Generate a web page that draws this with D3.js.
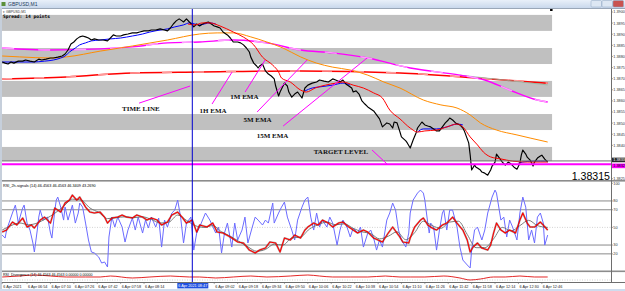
<!DOCTYPE html>
<html>
<head>
<meta charset="utf-8">
<script src="https://cdn.jsdelivr.net/npm/d3@7"></script>
<style>
  body { margin: 0; background: #fff; }
  svg { display: block; }
</style>
</head>
<body>
<div id="vis"></div>
<script>
// ── DATA ────────────────────────────────────────────────────────────────────
// time = minutes after 06:00 on 6 Apr 2021 (M1 bars), price in GBPUSD
const closeSeries = [[37,1.38775],[39,1.38770],[41,1.38766],[43,1.38775],[45,1.38770],[48,1.38779],[51,1.38779],[53,1.38784],[56,1.38779],[59,1.38775],[62,1.38788],[64,1.38784],[67,1.38788],[70,1.38793],[72,1.38793],[75,1.38797],[78,1.38802],[80,1.38811],[82,1.38829],[84,1.38856],[86,1.38865],[88,1.38879],[90,1.38888],[92,1.38892],[94,1.38888],[96,1.38883],[98,1.38874],[100,1.38879],[103,1.38874],[106,1.38874],[109,1.38870],[111,1.38883],[113,1.38897],[115,1.38892],[118,1.38892],[120,1.38897],[123,1.38901],[126,1.38906],[129,1.38906],[131,1.38910],[134,1.38915],[137,1.38915],[139,1.38919],[142,1.38919],[145,1.38924],[148,1.38919],[150,1.38915],[152,1.38928],[154,1.38946],[156,1.38960],[158,1.38969],[160,1.38960],[161,1.38955],[163,1.38969],[165,1.38955],[167,1.38942],[168,1.38933],[170,1.38946],[172,1.38937],[174,1.38946],[176,1.38951],[178,1.38955],[180,1.38946],[182,1.38937],[184,1.38933],[186,1.38928],[188,1.38910],[191,1.38897],[193,1.38883],[195,1.38865],[198,1.38865],[200,1.38861],[202,1.38852],[204,1.38838],[206,1.38820],[207,1.38797],[209,1.38770],[211,1.38757],[212,1.38748],[213,1.38757],[215,1.38766],[217,1.38735],[219,1.38721],[221,1.38712],[223,1.38699],[224,1.38667],[226,1.38622],[227,1.38640],[228,1.38654],[230,1.38680],[232,1.38667],[233,1.38640],[235,1.38617],[237,1.38631],[239,1.38640],[242,1.38613],[244,1.38658],[246,1.38671],[249,1.38680],[252,1.38685],[254,1.38694],[257,1.38689],[260,1.38685],[263,1.38699],[265,1.38694],[268,1.38685],[270,1.38694],[272,1.38676],[274,1.38667],[276,1.38658],[277,1.38640],[279,1.38645],[281,1.38631],[283,1.38600],[285,1.38586],[287,1.38573],[289,1.38564],[291,1.38555],[293,1.38537],[295,1.38519],[297,1.38483],[300,1.38501],[302,1.38496],[304,1.38478],[305,1.38505],[307,1.38501],[309,1.38460],[310,1.38438],[313,1.38420],[314,1.38411],[316,1.38388],[318,1.38424],[320,1.38456],[321,1.38478],[323,1.38496],[324,1.38505],[326,1.38492],[328,1.38487],[330,1.38483],[332,1.38474],[334,1.38465],[336,1.38465],[338,1.38483],[340,1.38501],[342,1.38514],[343,1.38523],[345,1.38514],[347,1.38501],[350,1.38492],[352,1.38478],[353,1.38465],[356,1.38411],[357,1.38357],[358,1.38289],[360,1.38311],[361,1.38302],[362,1.38298],[364,1.38289],[365,1.38280],[367,1.38275],[369,1.38266],[371,1.38289],[372,1.38307],[374,1.38325],[375,1.38361],[377,1.38343],[379,1.38325],[381,1.38311],[383,1.38325],[385,1.38316],[387,1.38302],[389,1.38293],[391,1.38320],[392,1.38357],[393,1.38379],[395,1.38361],[396,1.38347],[398,1.38334],[400,1.38307],[401,1.38325],[403,1.38343],[405,1.38352],[406,1.38356],[408,1.38338],[410,1.38325]];

// 1M EMA (blue) - null where it is hidden under the price
const ema1m = [[37,1.38775],[49,1.38775],[58,1.38775],[66,1.38779],[72,1.38784],[77,1.38793],[80,1.38802],[83,1.38820],[87,1.38838],[90,1.38852],[94,1.38861],[98,1.38870],[104,1.38874],[111,1.38879],[118,1.38883],[126,1.38892],[133,1.38901],[138,1.38910],[145,1.38919],[150,1.38924],[155,1.38933],[161,1.38942],[165,1.38951],[172,1.38942],[179,1.38951],[183,1.38946],[184,null],
  [244,1.38645],[249,1.38658],[254,1.38663],[263,1.38671],[270,1.38680],[275,1.38671],[276,null],
  [321,1.38460],[325,1.38474],[330,1.38474],[334,1.38474],[341,1.38483],[348,1.38496],[352,1.38492],[353,null],
  [390,1.38320],[393,1.38325],[400,1.38329],[405,1.38329],[410,1.38329]];

const ema5m = [[164,1.38946],[169,1.38942],[174,1.38951],[179,1.38951],[186,1.38937],[195,1.38910],[202,1.38887],[209,1.38852],[215,1.38797],[222,1.38761],[226,1.38730],[228,1.38703],[234,1.38685],[241,1.38649],[245,1.38640],[251,1.38658],[258,1.38671],[265,1.38680],[270,1.38685],[277,1.38671],[284,1.38658],[291,1.38636],[297,1.38613],[302,1.38559],[309,1.38519],[316,1.38478],[321,1.38460],[326,1.38465],[334,1.38469],[341,1.38483],[348,1.38496],[352,1.38483],[357,1.38438],[362,1.38402],[366,1.38370],[371,1.38348],[378,1.38339],[386,1.38329],[396,1.38325],[410,1.38325]];

const ema15m = [[37,1.38802],[49,1.38798],[70,1.38793],[81,1.38798],[104,1.38824],[126,1.38847],[150,1.38874],[172,1.38901],[184,1.38906],[195,1.38906],[207,1.38888],[218,1.38865],[229,1.38838],[241,1.38798],[252,1.38770],[263,1.38752],[275,1.38739],[287,1.38716],[298,1.38685],[309,1.38658],[325,1.38604],[337,1.38582],[348,1.38568],[357,1.38537],[364,1.38501],[375,1.38469],[389,1.38447],[398,1.38433],[410,1.38415]];

const emaSlow = [[37,1.38838],[70,1.38829],[104,1.38834],[126,1.38843],[150,1.38861],[172,1.38865],[195,1.38874],[218,1.38861],[241,1.38829],[263,1.38816],[287,1.38793],[316,1.38748],[350,1.38716],[367,1.38694],[384,1.38649],[403,1.38604],[410,1.38595]];

const ema1h = [[37,1.38699],[81,1.38708],[126,1.38726],[172,1.38730],[241,1.38735],[309,1.38726],[362,1.38703],[410,1.38680]];

const ema4h = [[350,1.38716],[410,1.38672]];

// grey rectangles (zones)
const zoneTop    = [1.38987, 1.38838, 1.38690, 1.38541, 1.38393];
const zoneBottom = [1.38915, 1.38766, 1.38618, 1.38469, 1.38330];
const zoneEnd    = 413;

const bidPrice    = 1.38330;
const targetPrice = 1.38315;
const timeLineAt  = 167;   // 08:47

// annotations (text, anchor, pointer from -> to)
const noteText = ["TIME LINE", "1H EMA", "1M EMA", "5M EMA", "15M EMA", "TARGET LEVEL"];
const noteAt   = [[119,1.38554],[172,1.38546],[193,1.38609],[202,1.38505],[211,1.38433],[250,1.38361]];
const noteFrom = [[130.6,1.38590],[180.5,1.38586],[203.1,1.38640],[211.3,1.38550],[229.1,1.38487],[289.9,1.38379]];
const noteTo   = [[165.5,1.38667],[194.2,1.38730],[216.8,1.38784],[245.5,1.38784],[286.5,1.38793],[300.2,1.38316]];

// RSI panel
const rsiFast = [[37,41.3],[39,37.9],[40,47.0],[44,66.3],[46,75.3],[47,66.3],[48,54.9],[51,71.9],[52,75.3],[54,54.9],[56,47.0],[58,32.3],[59,22.1],[61,47.0],[62,61.7],[63,69.6],[65,58.3],[68,61.7],[70,43.6],[71,37.9],[73,69.6],[74,81.0],[75,84.4],[77,73.0],[79,58.3],[80,73.0],[82,58.3],[85,75.3],[87,54.9],[89,66.3],[90,77.6],[92,73.0],[94,54.9],[96,35.7],[98,22.1],[100,21.0],[103,16.4],[105,9.6],[107,10.8],[109,5.1],[110,39.1],[112,61.7],[114,50.4],[116,61.7],[119,50.4],[121,33.4],[123,47.0],[126,60.6],[128,47.0],[130,61.7],[133,43.6],[135,58.3],[137,49.3],[139,61.7],[142,50.4],[144,60.6],[146,27.7],[148,58.3],[150,50.4],[153,66.3],[155,69.6],[157,81.0],[159,61.7],[161,32.3],[163,54.9],[166,61.7],[168,24.3],[170,43.6],[172,50.4],[176,66.3],[179,58.3],[183,43.6],[185,50.4],[187,21.0],[189,43.6],[191,54.9],[194,27.7],[196,54.9],[198,35.7],[201,47.0],[203,61.7],[205,32.3],[208,50.4],[210,61.7],[212,58.3],[215,52.7],[217,58.3],[219,54.9],[222,77.6],[223,54.9],[226,66.3],[228,73.0],[230,78.7],[232,61.7],[235,47.0],[237,35.7],[239,58.3],[242,73.0],[244,81.0],[246,84.4],[248,61.7],[250,47.0],[252,66.3],[254,50.4],[256,58.3],[259,50.4],[261,61.7],[263,54.9],[266,30.0],[268,47.0],[270,58.3],[273,49.3],[275,39.1],[277,49.3],[280,43.6],[282,50.4],[284,27.7],[287,43.6],[289,47.0],[291,37.9],[293,24.3],[295,35.7],[297,27.7],[300,58.3],[302,66.3],[304,77.6],[306,69.6],[308,47.0],[310,35.7],[313,27.7],[315,43.6],[316,66.3],[318,81.0],[321,88.9],[323,92.3],[325,88.9],[326,81.0],[328,54.9],[329,43.6],[330,54.9],[332,50.4],[334,24.3],[336,47.0],[338,66.3],[339,69.6],[341,47.0],[343,69.6],[345,69.6],[348,50.4],[350,27.7],[352,13.0],[355,7.4],[357,4.0],[358,24.3],[360,47.0],[362,50.4],[365,35.7],[367,47.0],[369,66.3],[372,84.4],[374,92.3],[375,88.9],[378,58.3],[380,61.7],[382,39.1],[384,58.3],[386,50.4],[389,35.7],[391,66.3],[393,84.4],[395,73.0],[397,35.7],[399,47.0],[401,32.3],[403,61.7],[405,66.3],[407,54.9],[408,30.0],[410,41.3]];

const rsiMain = [[37,44.7],[40,47.0],[44,56.1],[47,52.7],[51,60.6],[54,50.4],[57,52.7],[59,49.3],[63,58.3],[66,61.7],[70,54.9],[73,71.9],[77,67.4],[80,77.6],[83,81.0],[85,86.6],[88,81.0],[90,84.4],[94,73.0],[97,67.4],[100,66.3],[104,67.4],[107,61.7],[109,54.9],[112,60.6],[116,61.7],[119,64.0],[122,61.7],[126,60.6],[129,64.0],[133,61.7],[136,58.3],[139,60.6],[143,58.3],[146,52.7],[150,56.1],[153,64.0],[157,67.4],[160,61.7],[163,54.9],[167,58.3],[170,44.7],[172,52.7],[177,50.4],[181,54.9],[184,44.7],[188,43.6],[193,39.1],[198,33.4],[202,32.3],[206,24.3],[210,21.0],[213,24.3],[217,26.6],[220,33.4],[224,32.3],[227,22.1],[230,37.9],[234,35.7],[237,41.3],[241,37.9],[244,47.0],[246,50.4],[250,54.9],[253,52.7],[256,58.3],[260,54.9],[263,50.4],[267,54.9],[270,56.1],[274,50.4],[277,47.0],[280,43.6],[284,47.0],[287,44.7],[291,37.9],[294,35.7],[297,33.4],[301,43.6],[304,50.4],[308,41.3],[311,33.4],[315,32.3],[316,37.9],[319,50.4],[323,58.3],[325,60.6],[328,52.7],[331,49.3],[334,47.0],[338,52.7],[341,54.9],[345,61.7],[348,54.9],[352,47.0],[355,35.7],[357,22.1],[359,27.7],[362,32.3],[365,26.6],[369,24.3],[371,30.0],[373,43.6],[375,54.9],[378,47.0],[381,43.6],[384,47.0],[388,43.6],[391,58.3],[393,66.3],[396,54.9],[398,50.4],[401,50.4],[405,56.1],[407,52.7],[410,47.0]];

const rsiSignal = [[37,47],[43,52],[49,55],[55,53],[61,55],[67,60],[73,66],[79,74],[85,82],[91,81],[97,72],[103,67],[109,60],[115,61],[121,62],[127,61],[133,62],[139,59],[145,55],[151,56],[157,64],[163,58],[169,52],[175,50],[181,52],[187,45],[193,40],[199,34],[205,28],[211,23],[217,25],[223,31],[229,30],[235,38],[241,39],[247,48],[253,53],[259,56],[265,53],[271,54],[277,49],[283,45],[289,43],[295,37],[301,40],[307,45],[313,36],[319,44],[325,57],[331,52],[337,49],[343,56],[349,57],[355,42],[361,27],[367,27],[373,37],[379,50],[385,46],[391,52],[397,58],[403,52],[410,50]];

const rsiLevels = [80, 70, 30, 20];
const rsiMid    = 50;
const rsiTicks  = [100, 80, 70, 50, 30, 20];

// lower panel (divergence line)
const divSeries = [[37,45.5],[49,54.5],[59,63.6],[70,54.5],[81,45.5],[94,45.5],[104,45.5],[111,54.5],[126,36.4],[138,45.5],[152,54.5],[165,45.5],[172,45.5],[183,36.4],[195,45.5],[207,54.5],[218,45.5],[234,54.5],[246,63.6],[254,54.5],[263,45.5],[275,45.5],[287,45.5],[299,54.5],[309,45.5],[316,45.5],[326,45.5],[339,54.5],[350,36.4],[357,18.2],[364,27.3],[373,45.5],[381,45.5],[391,54.5],[401,45.5],[410,45.5]];

const priceTicks = [1.3900,1.3895,1.3890,1.3885,1.3880,1.3875,1.3870,1.3865,1.3860,1.3855,1.3850,1.3845,1.3840,1.3825];
const timeTicks  = [37,54,70,86,102,118,134,182,198,214,230,246,262,278,294,310,326,342,358,374,390,406];
const timeLabels = ["6 Apr 2021","6 Apr 06:54","6 Apr 07:10","6 Apr 07:26","6 Apr 07:42","6 Apr 07:58","6 Apr 08:14","6 Apr 09:02","6 Apr 09:18","6 Apr 09:34","6 Apr 09:50","6 Apr 10:06","6 Apr 10:22","6 Apr 10:38","6 Apr 10:54","6 Apr 11:10","6 Apr 11:26","6 Apr 11:42","6 Apr 11:58","6 Apr 12:14","6 Apr 12:30","6 Apr 12:46"];

// ── LAYOUT ──────────────────────────────────────────────────────────────────
const width = 625, height = 291;
const plotLeft = 2, plotRight = 611;
const mainTop = 9, mainBottom = 180;
const rsiTop = 182, rsiBottom = 271;
const lowTop = 272, lowBottom = 282;

const x     = d3.scaleLinear([35.5, 452], [0, 609.1]);
const y     = d3.scaleLinear([1.3830, 1.3900], [167.6, 12]);
const yRsi  = d3.scaleLinear([0, 100], [271.5, 183.3]);
const yLow  = d3.scaleLinear([0, 100], [282, 271]);

const svg = d3.select("#vis").append("svg")
    .attr("width", width)
    .attr("height", height)
    .style("font-family", "'Liberation Sans', Arial, sans-serif");

const defs = svg.append("defs");
const grad = defs.append("linearGradient").attr("id", "title").attr("x1", 0).attr("x2", 0).attr("y1", 0).attr("y2", 1);
grad.append("stop").attr("offset", 0).attr("stop-color", "#e9f0f9");
grad.append("stop").attr("offset", 1).attr("stop-color", "#c9d8ec");
defs.append("clipPath").attr("id", "clipMain").append("rect")
    .attr("x", plotLeft).attr("y", mainTop).attr("width", plotRight - plotLeft).attr("height", mainBottom - mainTop);
defs.append("clipPath").attr("id", "clipRsi").append("rect")
    .attr("x", plotLeft).attr("y", rsiTop).attr("width", plotRight - plotLeft).attr("height", rsiBottom - rsiTop);

// ── WINDOW FRAME ────────────────────────────────────────────────────────────
svg.append("rect").attr("width", width).attr("height", 8).attr("fill", "url(#title)");
svg.append("rect").attr("x", 1.5).attr("y", 2).attr("width", 4).attr("height", 4).attr("fill", "#5b8f3a");
svg.append("text").attr("x", 8).attr("y", 6.2).attr("font-size", 5).attr("fill", "#1e395b").text("GBPUSD,M1");
[[591, "#dde7f3"], [602, "#dde7f3"], [613, "#c9534f"]].forEach(([bx, c]) => {
  svg.append("rect").attr("x", bx).attr("y", 0.5).attr("width", 10.5).attr("height", 6.5)
     .attr("rx", 1).attr("fill", c).attr("stroke", "#8ea4c1").attr("stroke-width", 0.5);
});
svg.append("rect").attr("x", 0).attr("y", 8).attr("width", width).attr("height", 1).attr("fill", "#9aa7b8");
svg.append("rect").attr("x", 0).attr("y", 8).attr("width", 2).attr("height", height - 8).attr("fill", "#c6cfdb");
svg.append("rect").attr("x", plotLeft).attr("y", mainTop).attr("width", width - plotLeft).attr("height", lowBottom - mainTop + 7).attr("fill", "#fff");
svg.append("rect").attr("x", 0).attr("y", 289).attr("width", width).attr("height", 2).attr("fill", "#cfdcee");

// ── MAIN PANEL ──────────────────────────────────────────────────────────────
const main = svg.append("g").attr("clip-path", "url(#clipMain)");

main.append("g").selectAll("rect")
  .data(d3.range(zoneTop.length))
  .join("rect")
    .attr("x", x(35.5))
    .attr("y", i => y(zoneTop[i]))
    .attr("width", x(zoneEnd) - x(35.5))
    .attr("height", i => y(zoneBottom[i]) - y(zoneTop[i]))
    .attr("fill", "#c0c0c0");

const line = (ys, curve) => d3.line()
    .defined(d => d[1] != null)
    .x(d => x(d[0]))
    .y(d => ys(d[1]))
    .curve(curve || d3.curveLinear);

function drawLine(g, data, ys, color, w, curve) {
  return g.append("path").datum(data)
    .attr("fill", "none").attr("stroke", color).attr("stroke-width", w)
    .attr("stroke-linejoin", "round")
    .attr("d", line(ys, curve));
}

drawLine(main, ema1h, y, "#ff0000", 1.5, d3.curveMonotoneX);
drawLine(main, ema1h, y, "#ff9a9a", 1.5, d3.curveMonotoneX).attr("stroke-dasharray", "10 22");
drawLine(main, ema4h, y, "#8fb8a0", 0.8);
drawLine(main, emaSlow, y, "#ff00ff", 1.4, d3.curveMonotoneX);
drawLine(main, emaSlow, y, "#ff9cff", 1.4, d3.curveMonotoneX).attr("stroke-dasharray", "12 24");
drawLine(main, ema15m, y, "#ff8c00", 1, d3.curveMonotoneX);
drawLine(main, ema1m, y, "#0000ff", 1, d3.curveMonotoneX);
drawLine(main, closeSeries, y, "#000000", 1.15);
drawLine(main, ema5m, y, "#ff0000", 1, d3.curveMonotoneX);

// bid & target level
main.append("line").attr("x1", plotLeft).attr("x2", plotRight)
    .attr("y1", y(bidPrice)).attr("y2", y(bidPrice)).attr("stroke", "#6e6e6e").attr("stroke-width", 1);
main.append("line").attr("x1", plotLeft).attr("x2", plotRight)
    .attr("y1", y(targetPrice)).attr("y2", y(targetPrice)).attr("stroke", "#ff00ff").attr("stroke-width", 2.2);

// pointers + notes
main.append("g").selectAll("line")
  .data(d3.range(noteText.length))
  .join("line")
    .attr("x1", i => x(noteFrom[i][0])).attr("y1", i => y(noteFrom[i][1]))
    .attr("x2", i => x(noteTo[i][0])).attr("y2", i => y(noteTo[i][1]))
    .attr("stroke", "#ff00ff").attr("stroke-width", 1);

main.append("g")
    .style("font", "bold 7px 'Liberation Serif', 'Times New Roman', serif")
  .selectAll("text")
  .data(d3.range(noteText.length))
  .join("text")
    .attr("x", i => x(noteAt[i][0]))
    .attr("y", i => y(noteAt[i][1]))
    .attr("fill", "#111")
    .text(i => noteText[i]);

main.append("text").attr("x", 3).attr("y", 12.6).attr("font-size", 3.4).attr("fill", "#333").text("\u25BE GBPUSD,M1");
main.append("text").attr("x", 3).attr("y", 17.6)
    .style("font", "bold 4.6px 'DejaVu Sans Mono', monospace").attr("fill", "#000")
    .text("Spread: 14 points");

main.append("text").attr("x", 610).attr("y", 179.6).attr("text-anchor", "end")
    .attr("font-size", 10.6).attr("fill", "#000").text(targetPrice.toFixed(5));

// chart shift marker
svg.append("rect").attr("x", x(zoneEnd) - 2).attr("y", 9).attr("width", 2.5).attr("height", 2).attr("fill", "#000");

// ── RSI PANEL ───────────────────────────────────────────────────────────────
const rsi = svg.append("g").attr("clip-path", "url(#clipRsi)");
rsi.append("g").selectAll("line")
  .data(rsiLevels).join("line")
    .attr("x1", plotLeft).attr("x2", plotRight)
    .attr("y1", d => yRsi(d)).attr("y2", d => yRsi(d))
    .attr("stroke", "#8a8a8a").attr("stroke-width", 1);
rsi.append("line").attr("x1", plotLeft).attr("x2", plotRight)
    .attr("y1", yRsi(rsiMid)).attr("y2", yRsi(rsiMid))
    .attr("stroke", "#c8c8c8").attr("stroke-width", 0.8).attr("stroke-dasharray", "1 1.5");

drawLine(rsi, rsiFast, yRsi, "#6b6bff", 1);
drawLine(rsi, rsiSignal, yRsi, "#707070", 0.9, d3.curveMonotoneX);
drawLine(rsi, rsiMain, yRsi, "#000000", 2).attr("stroke-opacity", 0.3);
drawLine(rsi, rsiMain, yRsi, "#ff0000", 1.1);

rsi.append("text").attr("x", 3).attr("y", 187.3).attr("font-size", 3.8).attr("fill", "#000")
    .text("RSI_2h-signals (14) 46.4563 46.4563 46.3409 43.2690");

// ── LOWER PANEL ─────────────────────────────────────────────────────────────
svg.append("line").attr("x1", plotLeft).attr("x2", plotRight)
    .attr("y1", yLow(18)).attr("y2", yLow(18))
    .attr("stroke", "#b0b0b0").attr("stroke-width", 0.6).attr("stroke-dasharray", "1 1.5");
drawLine(svg, divSeries, yLow, "#e01010", 0.9, d3.curveMonotoneX);
svg.append("text").attr("x", 3).attr("y", 276.2).attr("font-size", 3.6).attr("fill", "#000")
    .text("RSI_Divergence (14) 46.4563 46.4563 0.00000 0.00000");

// panel separators
[mainBottom, rsiBottom - 0.5].forEach(py => {
  svg.append("rect").attr("x", plotLeft).attr("y", py).attr("width", width - plotLeft).attr("height", 1.6).attr("fill", "#8c8c8c");
});
svg.append("line").attr("x1", plotLeft).attr("x2", width).attr("y1", lowBottom + 0.5).attr("y2", lowBottom + 0.5)
    .attr("stroke", "#6e6e6e").attr("stroke-width", 1);

// time line
svg.append("line").attr("x1", x(timeLineAt)).attr("x2", x(timeLineAt))
    .attr("y1", mainTop).attr("y2", lowBottom)
    .attr("stroke", "#0000d0").attr("stroke-width", 1);

// ── AXES ────────────────────────────────────────────────────────────────────
svg.append("line").attr("x1", plotRight + 0.5).attr("x2", plotRight + 0.5)
    .attr("y1", mainTop).attr("y2", lowBottom).attr("stroke", "#6e6e6e");

const priceAxis = svg.append("g").attr("font-size", 3.8).attr("fill", "#333");
priceAxis.selectAll("text").data(priceTicks).join("text")
    .attr("x", plotRight + 2.3).attr("y", d => y(d) + 1.4).text(d => d.toFixed(4));
priceAxis.selectAll("line").data(priceTicks).join("line")
    .attr("x1", plotRight).attr("x2", plotRight + 2).attr("y1", d => y(d)).attr("y2", d => y(d))
    .attr("stroke", "#6e6e6e").attr("stroke-width", 0.6);

// highlighted price labels
[[bidPrice, "#2b2b2b", "#fff"], [targetPrice, "#ff00ff", "#000"]].forEach(([p, bg, fg], i) => {
  const cy = y(p) + (i ? 1.6 : -1);
  svg.append("rect").attr("x", plotRight + 1).attr("y", cy - 2.3).attr("width", width - plotRight - 1).attr("height", 4.6).attr("fill", bg);
  svg.append("text").attr("x", plotRight + 2.3).attr("y", cy + 1.4).attr("font-size", 3.8).attr("fill", fg).text(p.toFixed(4));
});

const rsiAxis = svg.append("g").attr("font-size", 3.8).attr("fill", "#333");
rsiAxis.selectAll("text").data(rsiTicks).join("text")
    .attr("x", plotRight + 2.3).attr("y", d => yRsi(d) + 1.4).text(d => d);
rsiAxis.selectAll("line").data(rsiTicks).join("line")
    .attr("x1", plotRight).attr("x2", plotRight + 2).attr("y1", d => yRsi(d)).attr("y2", d => yRsi(d))
    .attr("stroke", "#6e6e6e").attr("stroke-width", 0.6);

const timeAxis = svg.append("g").attr("font-size", 3.8).attr("fill", "#222");
timeAxis.selectAll("line").data(timeTicks).join("line")
    .attr("x1", d => x(d)).attr("x2", d => x(d)).attr("y1", lowBottom).attr("y2", lowBottom + 2)
    .attr("stroke", "#6e6e6e").attr("stroke-width", 0.6);
timeAxis.selectAll("text").data(d3.range(timeTicks.length)).join("text")
    .attr("x", i => x(timeTicks[i]) + 1)
    .attr("y", 287.6)
    .text(i => timeLabels[i]);

// current time-line label
const tl = svg.append("g");
tl.append("rect").attr("x", x(timeLineAt) - 15).attr("y", 283).attr("width", 31).attr("height", 5.4).attr("fill", "#1f4fe0");
tl.append("text").attr("x", x(timeLineAt) + 0.5).attr("y", 287.3).attr("text-anchor", "middle")
    .attr("font-size", 3.8).attr("fill", "#fff").text("6 Apr 2021 08:47");
</script>
</body>
</html>
